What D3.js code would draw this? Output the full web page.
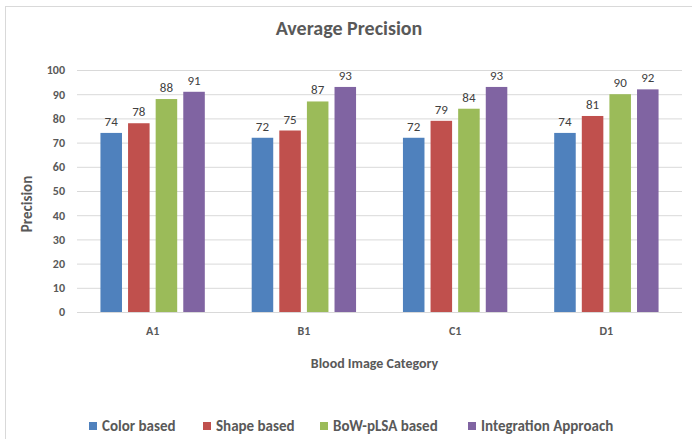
<!DOCTYPE html>
<html><head><meta charset="utf-8">
<script src="https://cdn.jsdelivr.net/npm/d3@7"></script>
<style>body{margin:0;background:#fff}svg{display:block}</style>
</head><body>
<svg id="c" width="692" height="439"></svg>
<script>
const categories = ["A1","B1","C1","D1"];
const seriesNames = ["Color based","Shape based","BoW-pLSA based","Integration Approach"];
const colorBased = [74,72,72,74];
const shapeBased = [78,75,79,81];
const bowPlsa = [88,87,84,90];
const integration = [91,93,93,92];
const yTicks = [0,10,20,30,40,50,60,70,80,90,100];
const colors = ["#4f81bd","#c0504d","#9bbb59","#8064a2"];
const seriesValues = [colorBased, shapeBased, bowPlsa, integration];

const font = "Carlito, Lato, 'Open Sans', sans-serif";
const svg = d3.select("#c");
const W = 692, H = 439;
const m = {left:77, right:10, top:70, bottom:127};
const plotR = 682, plotB = 312;

svg.append("rect").attr("x",5.5).attr("y",6.5).attr("width",W-4).attr("height",H)
  .attr("fill","#fff").attr("stroke","#d9d9d9");

const x = d3.scaleBand().domain(categories).range([m.left, plotR]).paddingInner(0).paddingOuter(0);
const y = d3.scaleLinear().domain([0,100]).range([plotB, m.top]);
const xs = d3.scaleBand().domain(d3.range(4)).range([0, x.bandwidth()*0.69]).paddingInner(0.22);
const off = x.bandwidth()*0.155;

// grid
svg.append("g").selectAll("line").data(yTicks.filter(t=>t>0)).join("line")
  .attr("x1",m.left).attr("x2",plotR).attr("y1",d=>y(d)+0.5).attr("y2",d=>y(d)+0.5)
  .attr("stroke","#d9d9d9");

// y axis labels
const ya = svg.append("g").attr("transform",`translate(${m.left},0)`)
  .call(d3.axisLeft(y).tickValues(yTicks).tickSize(0).tickPadding(12));
ya.select(".domain").remove();
ya.selectAll("text").attr("font-family",font).attr("font-size",12).attr("font-weight","bold").attr("fill","#595959");

// bars
const groups = svg.append("g").selectAll("g").data(categories).join("g")
  .attr("transform",d=>`translate(${x(d)+off},0)`);
groups.each(function(cat, ci){
  const g = d3.select(this);
  const vals = seriesValues.map((s,si)=>({si, v:s[ci]}));
  g.selectAll("rect").data(vals).join("rect")
    .attr("x",d=>xs(d.si)).attr("width",xs.bandwidth())
    .attr("y",d=>y(d.v)).attr("height",d=>y(0)-y(d.v))
    .attr("fill",d=>colors[d.si]);
  g.selectAll("text").data(vals).join("text")
    .attr("x",d=>xs(d.si)+xs.bandwidth()/2).attr("y",d=>y(d.v)-7)
    .attr("text-anchor","middle").attr("font-family",font).attr("font-size",13)
    .attr("fill","#404040").text(d=>d.v);
});

// x axis baseline
svg.append("line").attr("x1",m.left).attr("x2",plotR).attr("y1",plotB+0.5).attr("y2",plotB+0.5)
  .attr("stroke","#d9d9d9");
const xa = svg.append("g").attr("transform",`translate(0,${plotB})`)
  .call(d3.axisBottom(x).tickSize(0).tickPadding(14));
xa.select(".domain").remove();
xa.selectAll("text").attr("font-family",font).attr("font-size",12).attr("font-weight","bold").attr("fill","#595959");

// titles
svg.append("text").attr("x",349).attr("y",35).attr("text-anchor","middle")
  .attr("font-family",font).attr("font-size",20).attr("font-weight","bold").attr("fill","#595959")
  .text("Average Precision");
svg.append("text").attr("transform",`translate(32,${(m.top+plotB)/2+13}) rotate(-90)`)
  .attr("text-anchor","middle").attr("font-family",font).attr("font-size",15).attr("font-weight","bold").attr("fill","#595959")
  .text("Precision");
svg.append("text").attr("x",(m.left+plotR)/2-5).attr("y",368).attr("text-anchor","middle")
  .attr("font-family",font).attr("font-size",14).attr("font-weight","bold").attr("fill","#595959")
  .text("Blood Image Category");

// legend
const legX = [89,203,320,468];
const leg = svg.append("g").selectAll("g").data(seriesNames).join("g")
  .attr("transform",(d,i)=>`translate(${legX[i]},422)`);
leg.append("rect").attr("width",8).attr("height",8).attr("fill",(d,i)=>colors[i]);
leg.append("text").attr("x",13).attr("y",8.5).attr("font-family",font).attr("font-size",15)
  .attr("font-weight","bold").attr("fill","#595959").text(d=>d);
</script>
</body></html>
